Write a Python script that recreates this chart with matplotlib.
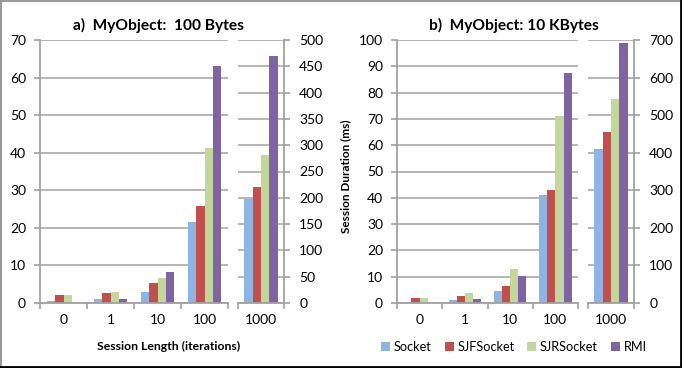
import matplotlib
matplotlib.use("Agg")
import matplotlib.pyplot as plt
from matplotlib.lines import Line2D
from matplotlib.patches import Patch

plt.rcParams['font.family'] = ['Lato', 'DejaVu Sans']

series = ['Socket', 'SJFSocket', 'SJRSocket', 'RMI']
colors = ['#8DB4E2', '#C0504D', '#C3D69B', '#8064A2']
cats = ['0', '1', '10', '100']
cat_big = '1000'

# panel a: MyObject 100 Bytes (rows = series, columns = 0, 1, 10, 100)
a_vals = [[0.6, 1.15, 3.0, 21.5],
          [2.2, 2.7, 5.2, 25.7],
          [2.2, 3.0, 6.7, 41.2],
          [0.0, 1.15, 8.2, 63.0]]
a_big = [197, 221, 281, 469]

# panel b: MyObject 10 KBytes
b_vals = [[0.4, 1.0, 4.6, 41.1],
          [1.9, 2.8, 6.3, 42.9],
          [1.9, 3.7, 12.9, 71.1],
          [0.0, 1.6, 10.3, 87.6]]
b_big = [409, 456, 542, 693]

W, H = 682, 368
GRID = '#B0B0B0'
SPINE = '#A0A0A0'
BW = 0.18


def px_axes(fig, x0, x1, y0, y1):
    return fig.add_axes([x0 / W, (H - y1) / H, (x1 - x0) / W, (y1 - y0) / H])


def style_common(ax, ymax, ystep):
    ax.set_ylim(0, ymax)
    ax.set_yticks(range(0, ymax + 1, ystep))
    ax.yaxis.grid(True, color=GRID, linewidth=1.3)
    ax.set_axisbelow(True)
    ax.spines['top'].set_visible(False)
    for s in ax.spines.values():
        s.set_color(SPINE)
        s.set_linewidth(1.3)
    ax.tick_params(axis='both', which='major', length=4, width=1.2, color=SPINE,
                   labelsize=10)
    ax.tick_params(axis='x', which='minor', length=0, pad=8, labelsize=10)


def panel(fig, vals, big, xl, xr, il, ir, ymax, ystep, ymax2, ystep2):
    ax = px_axes(fig, xl, xr, 40, 303)
    style_common(ax, ymax, ystep)
    for j in range(4):
        xs = [i + (j - 1.5) * BW for i in range(len(cats))]
        ax.bar(xs, vals[j], width=BW, color=colors[j], linewidth=0)
    ax.set_xlim(-0.5, len(cats) - 0.5)
    ax.set_xticks([i - 0.5 for i in range(len(cats) + 1)])
    ax.set_xticklabels([''] * (len(cats) + 1))
    ax.set_xticks(range(len(cats)), minor=True)
    ax.set_xticklabels(cats, minor=True)
    ax.spines['right'].set_visible(False)
    ax.tick_params(axis='y', pad=6)

    ax2 = px_axes(fig, il, ir, 40, 303)
    style_common(ax2, ymax2, ystep2)
    for j in range(4):
        ax2.bar((j - 1.5) * BW, big[j], width=BW, color=colors[j], linewidth=0)
    ax2.set_xlim(-0.5, 0.5)
    ax2.set_xticks([-0.5, 0.5])
    ax2.set_xticklabels(['', ''])
    ax2.set_xticks([0], minor=True)
    ax2.set_xticklabels([cat_big], minor=True)
    ax2.spines['left'].set_visible(False)
    ax2.yaxis.tick_right()
    ax2.tick_params(axis='y', pad=7)
    return ax, ax2


fig = plt.figure(figsize=(W / 100, H / 100), dpi=100)

panel(fig, a_vals, a_big, 40, 228, 238, 284, 70, 10, 500, 50)
panel(fig, b_vals, b_big, 397, 578, 588, 634, 100, 10, 700, 100)

fig.text(158 / W, 1 - 25 / H, 'a)  MyObject:  100 Bytes', ha='center', va='center',
         fontsize=11.2, fontweight='bold')
fig.text(514 / W, 1 - 25 / H, 'b)  MyObject: 10 KBytes', ha='center', va='center',
         fontsize=11.2, fontweight='bold')
fig.text(169 / W, 1 - 346 / H, 'Session Length (iterations)', ha='center', va='center',
         fontsize=8.8, fontweight='bold')
fig.text(346 / W, 1 - 176 / H, 'Session Duration (ms)', ha='center', va='center',
         fontsize=8.5, fontweight='bold', rotation=90)

handles = [Patch(facecolor=c, edgecolor='none', label=s) for c, s in zip(colors, series)]
fig.legend(handles=handles, loc='center', bbox_to_anchor=(514 / W, 1 - 347 / H), ncol=4,
           frameon=False, fontsize=9.2, handlelength=0.7, handleheight=0.7,
           handletextpad=0.3, columnspacing=1.0, borderpad=0)

# outer frame
fig.add_artist(Line2D([0, 1], [1 - 0.5 / H, 1 - 0.5 / H], color='#9A9A9A', lw=1.5))
fig.add_artist(Line2D([0.8 / W, 0.8 / W], [0, 1], color='#9A9A9A', lw=1.5))
fig.add_artist(Line2D([0, 1], [1.5 / H, 1.5 / H], color='black', lw=2))
fig.add_artist(Line2D([1 - 1.5 / W, 1 - 1.5 / W], [0, 1], color='black', lw=2))

fig.savefig('out.png', dpi=100)
